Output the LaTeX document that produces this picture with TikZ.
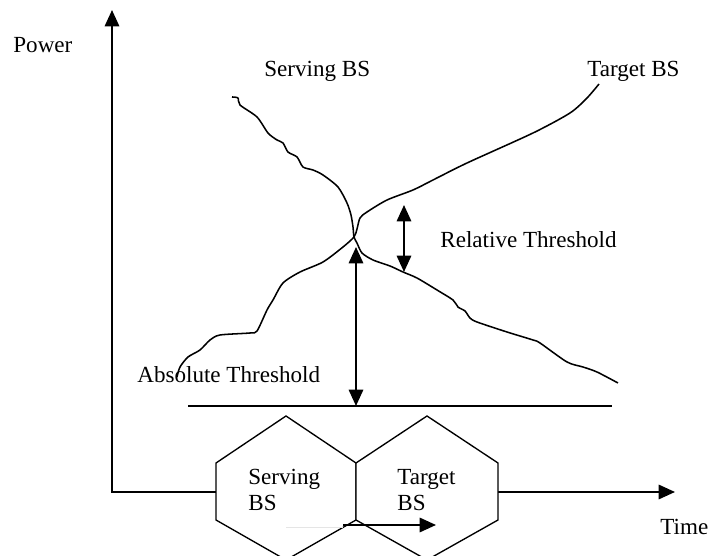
\documentclass[tikz,border=0pt]{standalone}
\usepackage{fontspec}
\setmainfont{Liberation Serif}
\usetikzlibrary{arrows.meta, positioning}

\begin{document}
\begin{tikzpicture}[x=0.52pt, y=-0.52pt, >={Triangle[length=8.5pt, width=7.5pt]},
    lbl/.style={anchor=base west, inner sep=0pt, font=\fontsize{12}{14}\selectfont},
    curve/.style={line width=0.8pt, line join=round},
    hexcell/.style={draw, fill=white, line width=0.7pt}]
    \clip (0,0) rectangle (709,556);

    % --- Trục toạ độ ---
    \coordinate (O) at (112,492);
    \coordinate (Ytip) at (112,10);
    \coordinate (Xtip) at (675,492);
    \draw[line width=1pt, <->] (Ytip) -- (O) -- (Xtip);
    \node[lbl] (power) at (13,53) {Power};
    \node[lbl] (time) at (660,535) {Time};

    % --- Hai ô lục giác ---
    \foreach \l/\r in {216/356, 356/498}
        \draw[hexcell] (\l,463) -- ({(\l+\r)/2},416) -- (\r,463) -- (\r,520)
            -- ({(\l+\r)/2},560) -- (\l,520) -- cycle;
    \node[lbl, align=left] (cellS) at (248,485) {Serving};
    \node[lbl] (cellSb) at (248,511) {BS};
    \node[lbl] (cellT) at (397,485) {Target};
    \node[lbl] (cellTb) at (397,511) {BS};

    % Mũi tên di chuyển
    \coordinate (m0) at (286,527);
    \coordinate (m1) at (343,525);
    \coordinate (m2) at (436,525);
    \draw[gray!20, line width=0.5pt] (m0) -- (m0 -| m1);
    \draw[line width=1pt, ->] (m1) -- (m2);

    % --- Đường công suất ---
    \draw[curve] plot[smooth, tension=0.45] coordinates {
        (232,97) (238,98) (240,105) (257,117) (268,133) (277,140) (283,143)
        (288,152) (297,157) (303,167) (313,170) (323,175) (338,187) (347,203)
        (351,215) (353,227) (354,237) (357,243) (362,253) (373,260) (390,266)
        (403,272) (417,278) (437,290) (453,300) (458,307) (465,311) (470,318)
        (477,322) (507,332) (533,340) (540,343) (567,362) (583,367) (597,372)
        (618,383)};
    \draw[curve] plot[smooth, tension=0.45] coordinates {
        (177,377) (180,367) (188,357) (200,350) (210,340) (220,335) (250,333)
        (257,331) (267,310) (273,300) (283,283) (300,272) (323,262) (343,247)
        (354,237) (357,229) (360,218) (367,212) (387,200) (413,190) (433,180)
        (467,163) (533,133) (570,113) (587,98) (599,84)};
    \node[lbl] (serving) at (264,77) {Serving BS};
    \node[lbl] (target) at (587,77) {Target BS};

    % --- Ngưỡng ---
    \coordinate (th1) at (188,406);
    \coordinate (th2) at (612,406);
    \draw[line width=1pt] (th1) -- (th2);
    \coordinate (abs1) at (356,247);
    \coordinate (abs2) at (356,406);
    \draw[line width=1pt, <->] (abs1) -- (abs2);
    \node[lbl] (absth) at (137,383) {Absolute Threshold};
    \coordinate (rel1) at (404,205);
    \coordinate (rel2) at (404,272);
    \draw[line width=1pt, <->] (rel1) -- (rel2);
    \node[lbl] (relth) at (440,248) {Relative Threshold};
\end{tikzpicture}
\end{document}
